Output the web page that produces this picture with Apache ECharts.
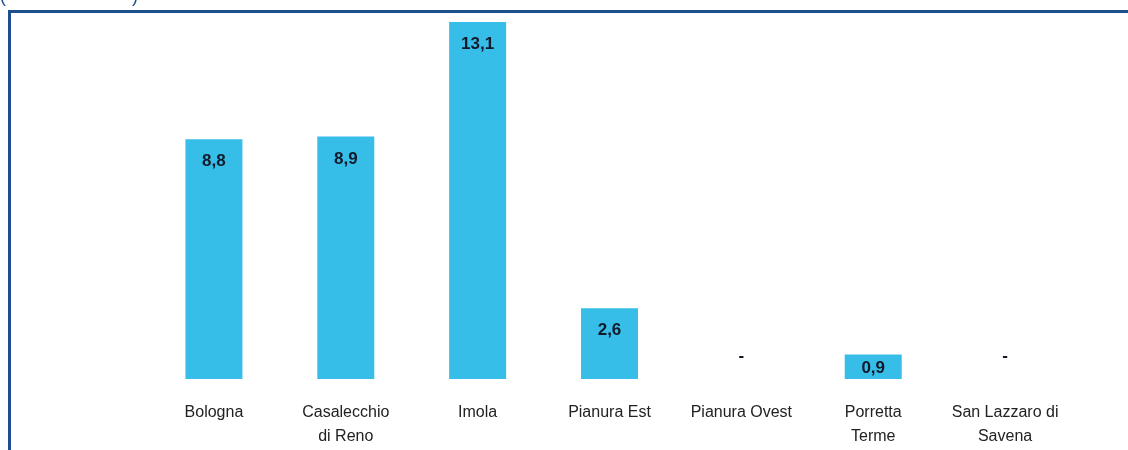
<!DOCTYPE html>
<html>
<head>
<meta charset="utf-8">
<script src="https://cdn.jsdelivr.net/npm/echarts@6/dist/echarts.min.js"></script>
<style>
html,body{margin:0;padding:0;background:#fff;}
#chart{width:1128px;height:450px;}
</style>
</head>
<body>
<div id="chart"></div>
<script>
// categorie (distretti)
const categories = ['Bologna', 'Casalecchio\ndi Reno', 'Imola', 'Pianura Est', 'Pianura Ovest', 'Porretta\nTerme', 'San Lazzaro di\nSavena']
// valori, 0 = dato assente ("-")
const values = [8.8, 8.9, 13.1, 2.6, 0, 0.9, 0]

const FONT = '"Liberation Sans", Arial, sans-serif'
const chart = echarts.init(document.getElementById('chart'))

const barData = values.map((v) => {
    if (v === 0) {
        return {value: 0, label: {position: 'top', distance: 14, formatter: '-'}}
    }
    if (v < 1.5) {
        return {value: v, label: {position: 'inside', offset: [0, 2]}}
    }
    return v
})

const option = {
    animation: false,
    backgroundColor: '#fff',
    grid: {
        left: 148,
        right: 57,
        top: 22,
        bottom: 71
    },
    xAxis: {
        type: 'category',
        data: categories,
        axisLine: {show: false},
        axisTick: {show: false},
        axisLabel: {
            interval: 0,
            hideOverlap: false,
            margin: 22,
            fontFamily: FONT,
            fontSize: 16,
            lineHeight: 24,
            color: '#222'
        }
    },
    yAxis: {
        type: 'value',
        min: 0,
        max: 'dataMax',
        show: false,
        splitLine: {show: false}
    },
    series: [{
        type: 'bar',
        data: barData,
        barWidth: 57,
        itemStyle: {color: '#36bee9'},
        label: {
            show: true,
            position: 'insideTop',
            distance: 14,
            fontFamily: FONT,
            fontWeight: 'bold',
            fontSize: 17,
            color: '#111a2a',
            formatter: p => String(p.value).replace('.', ',')
        }
    }],
    graphic: [
        {
            type: 'rect',
            shape: {x: 9.5, y: 11.5, width: 1300, height: 600},
            style: {fill: null, stroke: '#1f4e8c', lineWidth: 3},
            silent: true
        },
        {type: 'text', left: 0, top: -12, style: {text: '(', fontSize: 18, fill: '#1f4e8c', fontFamily: FONT}},
        {type: 'text', left: 132, top: -12, style: {text: ')', fontSize: 18, fill: '#1f4e8c', fontFamily: FONT}}
    ]
}
chart.setOption(option)
</script>
</body>
</html>
